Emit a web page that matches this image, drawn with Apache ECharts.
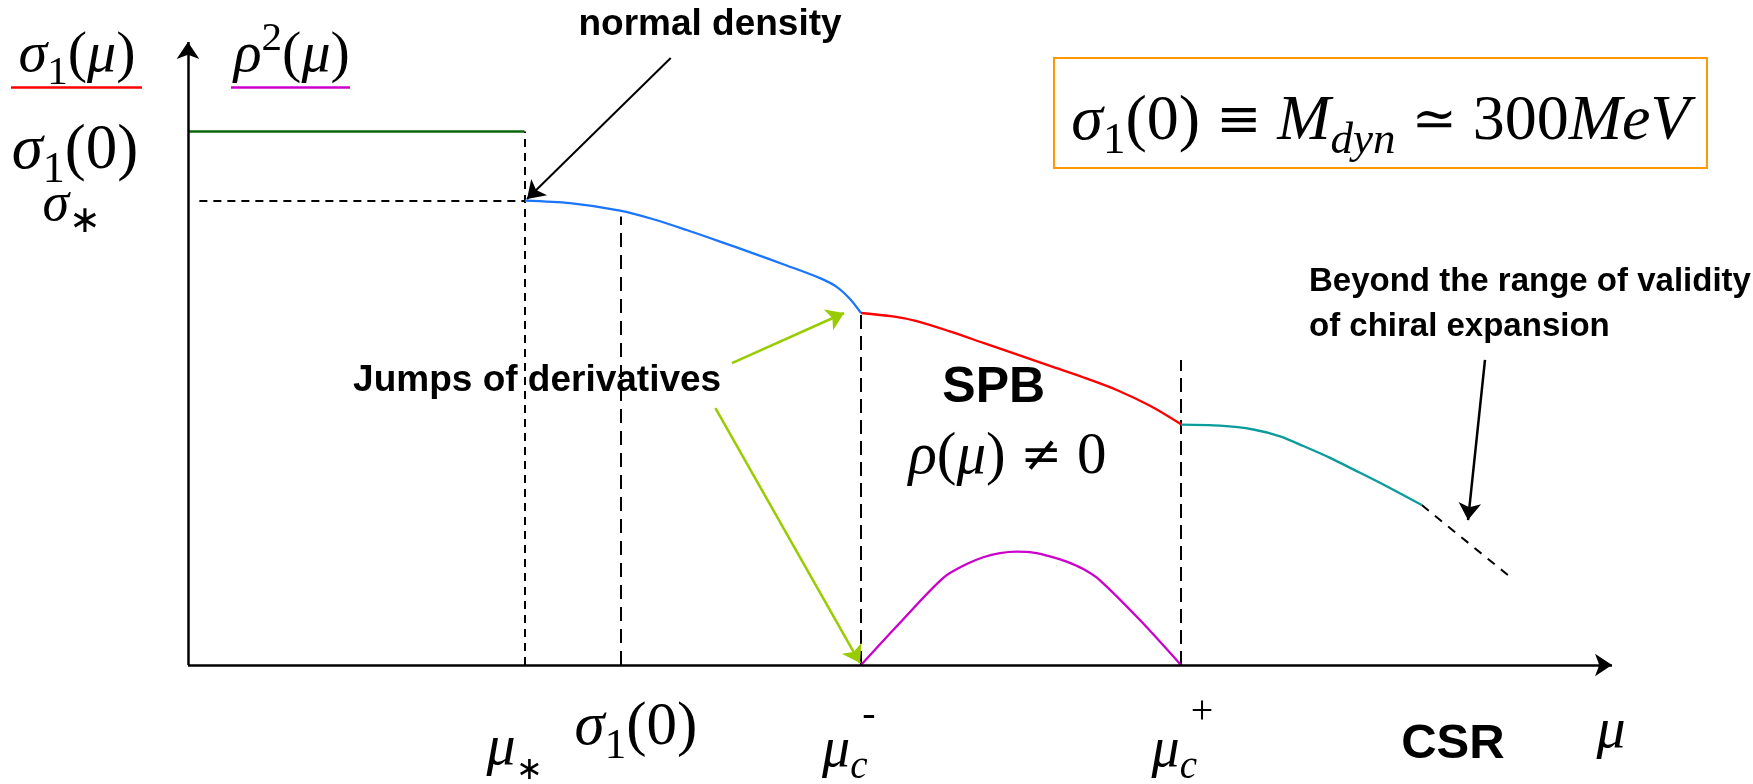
<!DOCTYPE html>
<html>
<head>
<meta charset="utf-8">
<script src="https://cdn.jsdelivr.net/npm/echarts@6/dist/echarts.min.js"></script>
<style>html,body{margin:0;padding:0;background:#fff}#c{width:1753px;height:784px}</style>
</head>
<body>
<div id="c"></div>
<script>
// ---------- data (schematic units: mu along x, sigma / rho^2 along y) ----------
const muStar = 23.63;      // mu_*  (normal density)
const muSigma0 = 30.37;    // mu = sigma1(0)
const muCminus = 47.26;    // mu_c^-
const muCplus = 69.73;     // mu_c^+
const sigma0 = 85.65;      // sigma1(0)
const sigmaStar = 74.48;   // sigma_*
const axisEnd = 100;

const blueMu    = [23.67, 26.83, 30.34, 32.68, 35.02, 37.36, 39.70, 42.04, 44.38, 45.55, 46.49, 47.26];
const blueSigma = [74.53, 74.12, 72.93, 71.55, 69.82, 67.97, 66.07, 64.13, 62.10, 60.70, 58.75, 56.50];
const redMu     = [47.26, 49.50, 51.17, 53.50, 55.85, 58.20, 60.53, 62.90, 65.22, 67.56, 69.73];
const redSigma  = [56.50, 55.95, 55.20, 53.55, 51.70, 49.85, 48.00, 46.15, 44.15, 41.60, 38.64];
const tealMu    = [69.73, 72.47, 74.81, 76.69, 78.32, 80.20, 81.83, 84.17, 86.64];
const tealSigma = [38.57, 38.41, 37.80, 36.70, 35.15, 33.25, 31.40, 28.70, 25.68];
const extrapMu    = [86.64, 93.05];
const extrapSigma = [25.68, 13.76];
const rhoMu = [47.26, 50.00, 53.04, 54.68, 55.85, 57.02, 58.19, 59.36, 60.53, 61.70, 62.87, 64.04, 66.85, 69.73];
const rho2  = [0, 6.79, 14.00, 16.20, 17.30, 17.95, 18.19, 18.05, 17.45, 16.60, 15.40, 13.60, 7.22, 0];

// dashed guide tops
const sigma0LineTop = 72.0;
const muCplusLineTop = 48.96;

// arrows: [from, to] in data units
const arrowNormal = [[33.90, 97.42], [23.81, 74.80]];
const arrowJump1  = [[38.20, 48.47], [46.07, 56.50]];
const arrowJump2  = [[37.04, 41.25], [47.19, 0.32]];
const arrowBeyond = [[91.08, 48.96], [89.89, 23.27]];

// text anchors (data units)
const posSigmaMu   = [-7.79, 97.77];
const posRho2Mu    = [7.29, 97.77];
const underlineY   = 92.74;
const underlineSig = [-12.43, -3.23];
const underlineRho = [3.02, 11.38];
const posSigma0L   = [-7.94, 82.40];
const posSigmaStar = [-8.15, 73.70];
const posNormal    = [36.66, 102.8];
const posBox       = [83.74, 88.60];
const posJumps     = [24.52, 45.60];
const posSPB       = [56.58, 44.40];
const posRhoNe     = [57.55, 33.30];
const posBeyond    = [78.72, 57.80];
const posMuStarLbl = [22.93, -13.48];
const posSigma0B   = [31.46, -10.18];
const posMuCmLbl   = [46.12, -13.80];
const posMuCmSign  = [47.82, -8.11];
const posMuCpLbl   = [69.26, -13.80];
const posMuCpSign  = [71.21, -7.70];
const posCSR       = [88.83, -12.68];
const posMu        = [99.93, -10.75];

// ---------- chart ----------
const pair = (xs, ys) => xs.map((x, i) => [x, ys[i]]);
const FS = 'Liberation Serif';
const INK = '#000000';
function mathRich(S) {
  const base = {fontFamily: FS, fontSize: S, lineHeight: Math.round(S * 1.3), color: INK, opacity: 1};
  const small = Math.round(S * 0.7), smallLH = Math.round(S * 0.8);
  return {
    i: Object.assign({}, base, {fontStyle: 'italic'}),
    r: Object.assign({}, base),
    o: Object.assign({}, base, {fontFamily: 'DejaVu Serif', fontSize: Math.round(S * 0.85)}),
    bi: Object.assign({}, base, {fontStyle: 'italic', fontSize: small, lineHeight: smallLH, verticalAlign: 'bottom'}),
    br: Object.assign({}, base, {fontSize: small, lineHeight: smallLH, verticalAlign: 'bottom'}),
    bs: Object.assign({}, base, {fontSize: Math.round(S * 0.55), lineHeight: smallLH, verticalAlign: 'bottom'}),
    tr: Object.assign({}, base, {fontSize: small, lineHeight: smallLH, verticalAlign: 'top'})
  };
}
const plainLabel = {show: true, position: 'inside', opacity: 1, textBorderWidth: 0, textShadowBlur: 0};
function mathText(pos, str, S, extra) {
  return {value: pos, label: Object.assign({}, plainLabel, {formatter: () => str, color: INK, rich: mathRich(S)}, extra || {})};
}
function boldText(pos, str, S, extra) {
  return {value: pos, label: Object.assign({}, plainLabel, {formatter: () => str,
    fontFamily: 'Liberation Sans', fontWeight: 'bold', fontSize: S, color: '#000000'}, extra || {})};
}

const curve = (data, color) => ({
  type: 'line', data, smooth: 0.3, showSymbol: false, silent: true, z: 4,
  lineStyle: {color, width: 2.3}
});
const seg = (coords, color, width, type, extra) => Object.assign({
  type: 'lines', coordinateSystem: 'cartesian2d', silent: true, z: 3,
  data: coords.map(c => ({coords: c})),
  symbol: ['none', 'none'],
  lineStyle: {color, width, type, opacity: 1},
  itemStyle: {color}
}, extra || {});
const arrows = (coords, color, width, size) => seg(coords, color, width, 'solid',
  {symbol: ['none', 'arrow'], symbolSize: size, z: 5});

const option = {
  animation: false,
  backgroundColor: '#ffffff',
  grid: {left: 0, right: 0, top: 0, bottom: 0},
  xAxis: {type: 'value', min: -13.20, max: 109.90, show: false},
  yAxis: {type: 'value', min: -19.10, max: 106.74, show: false},
  series: [
    // axes with arrows
    arrows([[[0, 0], [axisEnd, 0]], [[0, 0], [0, axisEnd]]], '#000', 2.5, [11, 17]),
    // green plateau
    seg([[[0, sigma0], [muStar, sigma0]]], '#0a660a', 2.5, 'solid'),
    // dashed guides
    seg([[[0.8, sigmaStar], [muStar, sigmaStar]], [[muStar, 0], [muStar, sigma0]]], '#000', 2, [8, 6]),
    seg([[[muSigma0, 0], [muSigma0, sigma0LineTop]]], '#000', 2, [14, 8]),
    seg([[[muCminus, 0], [muCminus, blueSigma[blueSigma.length - 1]]], [[muCplus, 0], [muCplus, muCplusLineTop]]], '#000', 2, [14, 7]),
    seg([[[extrapMu[0], extrapSigma[0]], [extrapMu[1], extrapSigma[1]]]], '#000', 2, [9, 8]),
    // curves
    curve(pair(blueMu, blueSigma), '#1a75ff'),
    curve(pair(redMu, redSigma), '#ff0000'),
    curve(pair(tealMu, tealSigma), '#0a9c9c'),
    curve(pair(rhoMu, rho2), '#cc00cc'),
    // legend underlines
    seg([[[underlineSig[0], underlineY], [underlineSig[1], underlineY]]], '#ff0000', 2.5, 'solid'),
    seg([[[underlineRho[0], underlineY], [underlineRho[1], underlineY]]], '#cc00cc', 2.5, 'solid'),
    // annotation arrows
    arrows([arrowNormal], '#000', 2, [12, 17]),
    arrows([arrowJump1, arrowJump2], '#99cc00', 2.5, [12, 17]),
    arrows([arrowBeyond], '#000', 2.5, [12, 17]),
    // texts
    {
      type: 'scatter', symbolSize: 0, silent: true, z: 10,
      itemStyle: {opacity: 1, color: '#000'},
      data: [
        mathText(posSigmaMu, '{i|σ}{br|1}{r|(}{i|μ}{r|)}', 58),
        mathText(posRho2Mu, '{i|ρ}{tr|2}{r|(}{i|μ}{r|)}', 58),
        mathText(posSigma0L, '{i|σ}{br|1}{r|(0)}', 63),
        mathText(posSigmaStar, '{i|σ}{br|∗}', 54),
        boldText(posNormal, 'normal density', 37),
        mathText(posBox, '{i|σ}{br|1}{r|(0) }{o|≡}{i| M}{bi|dyn}{r| }{o|≃}{r| 300}{i|MeV}', 64,
          {borderColor: '#ff9900', borderWidth: 2, padding: [23, 16], width: 621, height: 64, align: 'center'}),
        boldText(posJumps, 'Jumps of derivatives', 37),
        boldText(posSPB, 'SPB', 50),
        mathText(posRhoNe, '{i|ρ}{r|(}{i|μ}{r|) }{o|≠}{r| 0}', 59),
        boldText(posBeyond, 'Beyond the range of validity\nof chiral expansion', 33, {align: 'left', lineHeight: 45}),
        mathText(posMuStarLbl, '{i|μ}{bs|∗}', 58),
        mathText(posSigma0B, '{i|σ}{br|1}{r|(0)}', 61),
        mathText(posMuCmLbl, '{i|μ}{bi|c}', 56),
        mathText(posMuCmSign, '{r|-}', 40),
        mathText(posMuCpLbl, '{i|μ}{bi|c}', 56),
        mathText(posMuCpSign, '{r|+}', 40),
        boldText(posCSR, 'CSR', 49),
        mathText(posMu, '{i|μ}', 58)
      ]
    }
  ]
};
const chart = echarts.init(document.getElementById('c'));
chart.setOption(option);
</script>
</body>
</html>
